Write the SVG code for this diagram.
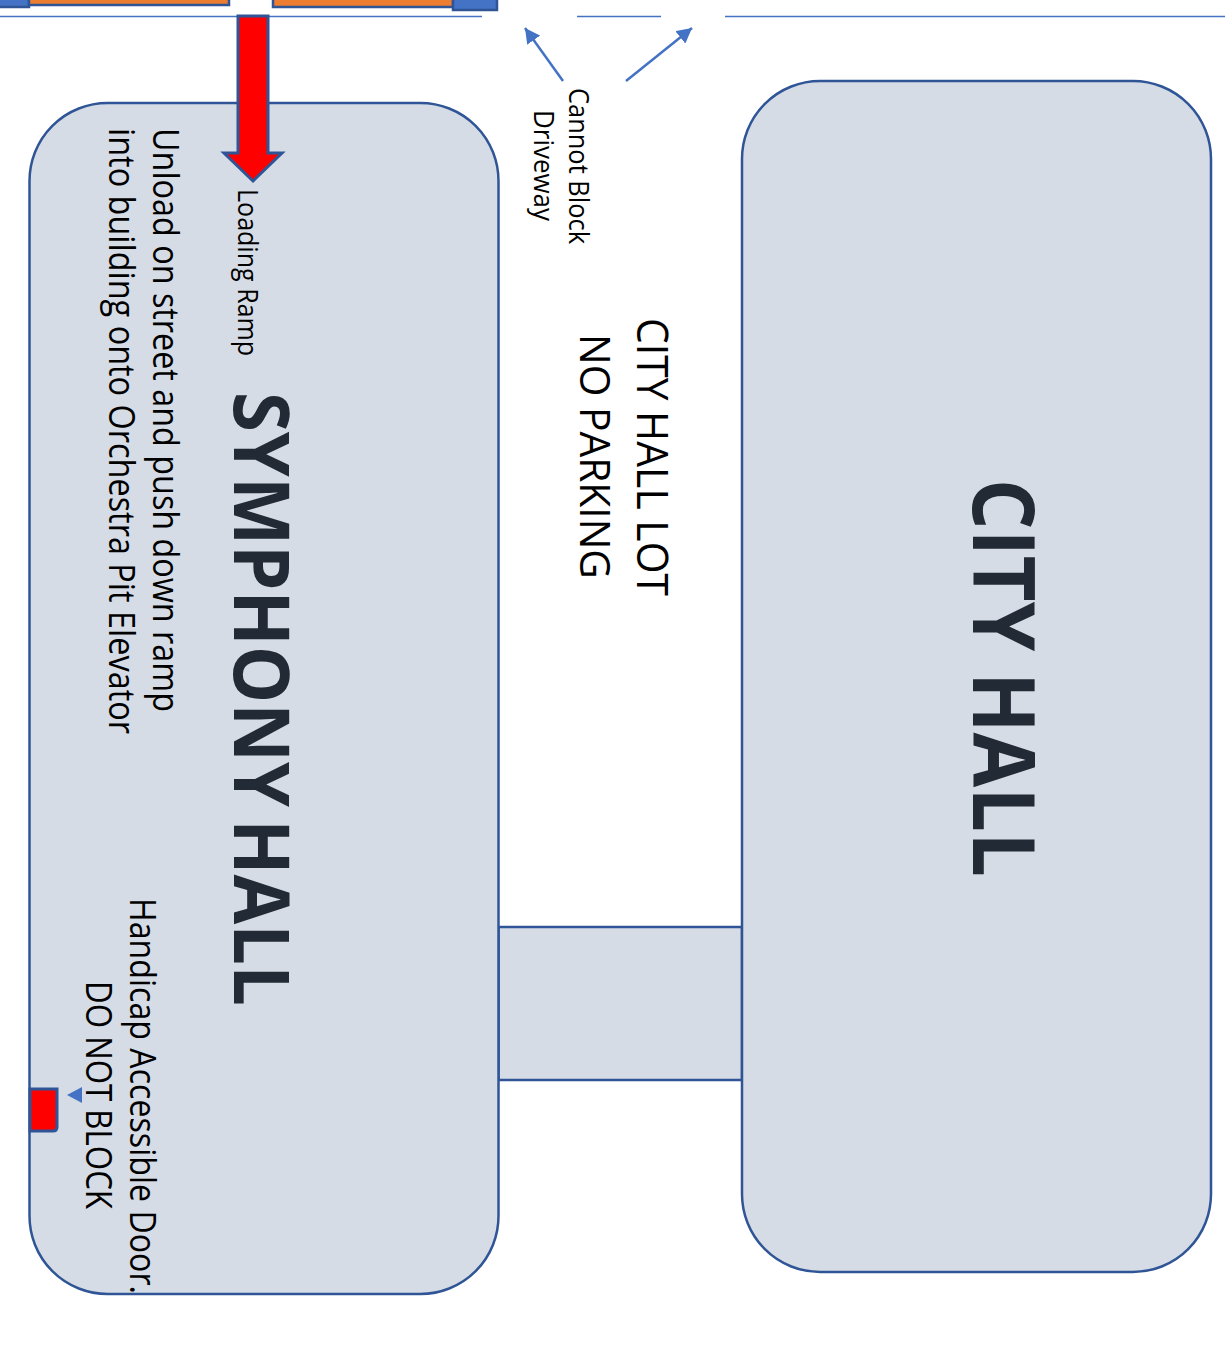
<svg xmlns="http://www.w3.org/2000/svg" width="1225" height="1358" viewBox="0 0 1225 1358">
<style>
.b{fill:#d6dce5;stroke:#2f5597;stroke-width:2.5}
.l{stroke:#4472c4;stroke-width:1.5;fill:none}
.c{stroke:#4472c4;stroke-width:2.5;fill:none}
.t{font-family:"Open Sans","Noto Sans",sans-serif;fill:#000}
.h{font-family:"Open Sans","Noto Sans",sans-serif;font-weight:700;fill:#222a35}
</style>
<defs><marker id="a" markerUnits="userSpaceOnUse" markerWidth="16" markerHeight="16" refX="15" refY="8" orient="auto"><path d="M0 0L15 8L0 16Z" fill="#4472c4"/></marker></defs>
<rect width="1225" height="1358" fill="#fff"/>
<g id="top-edge">
<rect x="-3" y="-6" width="32" height="13" fill="#4472c4" stroke="#2f5597" stroke-width="2.5"/>
<rect x="29" y="-6" width="200" height="11" fill="#ed7d31" stroke="#2f5597" stroke-width="2.5"/>
<rect x="273" y="-6" width="180" height="13" fill="#ed7d31" stroke="#2f5597" stroke-width="2.5"/>
<rect x="453" y="-6" width="44" height="16" fill="#4472c4" stroke="#2f5597" stroke-width="2.5"/>
</g>
<g id="connector-bar"><rect class="b" x="498.500" y="927" width="243.500" height="153"/></g>
<g id="symphony-hall"><rect class="b" x="29.500" y="103" width="469" height="1191" rx="78"/>
<text class="h" transform="translate(234 392) rotate(90)" font-size="77" word-spacing="-7" textLength="614" lengthAdjust="spacingAndGlyphs">SYMPHONY HALL</text></g>
<g id="city-hall"><rect class="b" x="742" y="81" width="469" height="1191" rx="78"/>
<text class="h" transform="translate(973 479) rotate(90)" font-size="86" textLength="398" lengthAdjust="spacingAndGlyphs">CITY HALL</text></g>
<g id="connectors">
<path class="l" d="M0 16.500H482M577 16.500H661M725 16.500H1225"/>
<path class="c" d="M563 81L525 28" marker-end="url(#a)"/>
<path class="c" d="M626 81L692 28" marker-end="url(#a)"/>
</g>
<g id="loading-arrow"><path d="M238 16H268V153H282L253 181L224 153H238Z" fill="#f00" stroke="#2f5597" stroke-width="3"/></g>
<g id="handicap-door"><path d="M30 1089H57V1127Q57 1131 53 1131H30Z" fill="#f00" stroke="#2f5597" stroke-width="3"/>
<path d="M82 1087V1103L67 1095Z" fill="#4472c4"/></g>
<g id="labels">
<text class="t" transform="translate(238 189) rotate(90)" font-size="28" textLength="167" lengthAdjust="spacingAndGlyphs">Loading Ramp</text>
<text class="t" transform="translate(153 128) rotate(90)" font-size="36" textLength="584" lengthAdjust="spacingAndGlyphs">Unload on street and push down ramp</text>
<text class="t" transform="translate(109 128) rotate(90)" font-size="36" textLength="606" lengthAdjust="spacingAndGlyphs">into building onto Orchestra Pit Elevator</text>
<text class="t" transform="translate(130 898) rotate(90)" font-size="36" textLength="396" lengthAdjust="spacingAndGlyphs">Handicap Accessible Door.</text>
<text class="t" transform="translate(86 981) rotate(90)" font-size="36" textLength="228" lengthAdjust="spacingAndGlyphs">DO NOT BLOCK</text>
<text class="t" transform="translate(569 88) rotate(90)" font-size="28" textLength="156" lengthAdjust="spacingAndGlyphs">Cannot Block</text>
<text class="t" transform="translate(534 110) rotate(90)" font-size="28" textLength="111" lengthAdjust="spacingAndGlyphs">Driveway</text>
<text class="t" transform="translate(637 318) rotate(90)" font-size="43" textLength="278" lengthAdjust="spacingAndGlyphs">CITY HALL LOT</text>
<text class="t" transform="translate(580 334) rotate(90)" font-size="42" textLength="245" lengthAdjust="spacingAndGlyphs">NO PARKING</text>
</g>
</svg>
